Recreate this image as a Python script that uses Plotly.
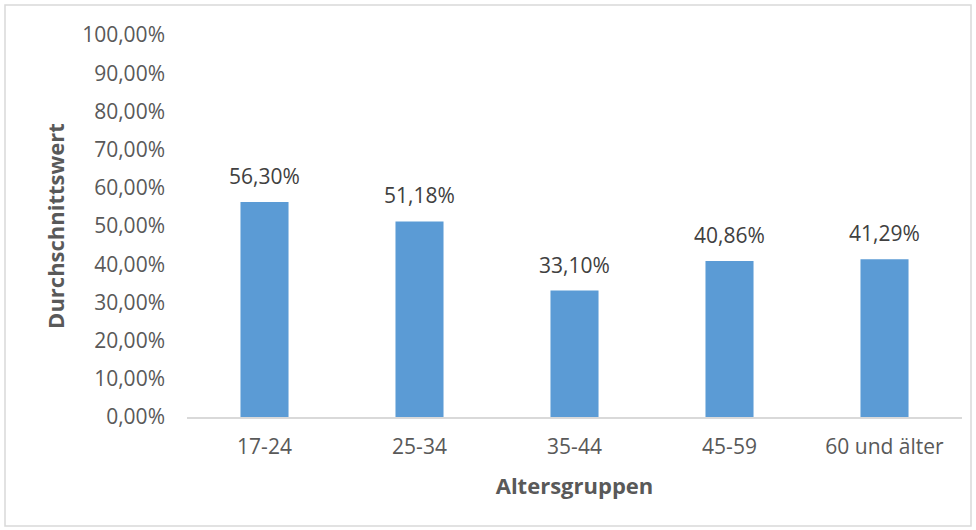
import plotly.graph_objects as go

categories = ["17-24", "25-34", "35-44", "45-59", "60 und älter"]
values = [0.5630, 0.5118, 0.3310, 0.4086, 0.4129]
y_ticks = [i / 10 for i in range(11)]

W, H = 976, 530
L, R, T, B = 187, 14, 35, 113
pw, ph = W - L - R, H - T - B

def px_x(x):
    return (x - L) / pw

def px_y(y):
    return (H - B - y) / ph

font = "'Open Sans', sans-serif"
gray = "#595959"
fs = 21

fig = go.Figure(go.Bar(
    x=categories, y=values,
    marker=dict(color="#5B9BD5", line=dict(width=0)),
    width=0.31,
))

for c, v in zip(categories, values):
    fig.add_annotation(
        x=c, y=v, text=f"{v*100:.2f}%".replace(".", ","),
        showarrow=False, yanchor="middle", yshift=26,
        font=dict(size=fs, color="#404040", family=font),
    )

fig.update_layout(
    width=W, height=H,
    margin=dict(l=L, r=R, t=T, b=B),
    paper_bgcolor="white", plot_bgcolor="white",
    separators=",.",
    showlegend=False,
    font=dict(family=font, color=gray),
    xaxis=dict(
        showline=True, linecolor="#D9D9D9", linewidth=1.5,
        showgrid=False, ticks="", tickfont=dict(size=fs, color=gray),
        ticklabelstandoff=10,
        title=dict(text="<b>Altersgruppen</b>", font=dict(size=22, color=gray), standoff=20),
    ),
    yaxis=dict(
        range=[0, 1], tickvals=y_ticks, tickformat=".2%",
        showline=False, showgrid=False, zeroline=False, ticks="",
        tickfont=dict(size=fs, color=gray),
        ticklabelstandoff=21,
        title=dict(text="<b>Durchschnittswert</b>", font=dict(size=22, color=gray), standoff=11),
    ),
    shapes=[dict(
        type="rect", xref="paper", yref="paper",
        x0=px_x(5), x1=px_x(971), y0=px_y(526), y1=px_y(5),
        line=dict(color="#D9D9D9", width=1.5), fillcolor="rgba(0,0,0,0)", layer="below",
    )],
)

fig.write_html("out.html")
